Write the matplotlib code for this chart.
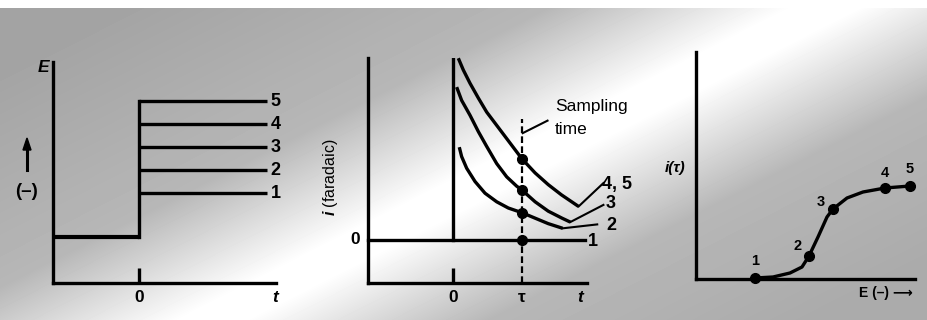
import numpy as np
import matplotlib
matplotlib.use('Agg')
import matplotlib.pyplot as plt

plt.rcParams['font.family'] = ['Liberation Sans', 'DejaVu Sans']
plt.rcParams['font.weight'] = 'bold'
plt.rcParams['mathtext.fontset'] = 'custom'
plt.rcParams['mathtext.it'] = 'Liberation Sans:italic:bold'
plt.rcParams['mathtext.rm'] = 'Liberation Sans:bold'

W, H = 928, 320
LW = 2.4

# panel 1: potential steps
t_step = 0.0
t_end = 1.5
E_base = 2.0
E_levels = [3.9, 4.9, 5.9, 6.9, 7.9]
level_labels = ['1', '2', '3', '4', '5']

# panel 2: faradaic current transients (curve 1 is the zero line)
t_45 = [0.077, 0.149, 0.246, 0.367, 0.488, 0.633, 0.778, 0.923, 1.00, 1.19, 1.38, 1.57, 1.82]
i_45 = [2.33, 2.18, 2.01, 1.82, 1.64, 1.47, 1.30, 1.13, 1.04, 0.86, 0.71, 0.58, 0.43]
t_3 = [0.053, 0.125, 0.246, 0.367, 0.488, 0.633, 0.778, 0.923, 1.00, 1.19, 1.38, 1.58, 1.70]
i_3 = [1.96, 1.79, 1.60, 1.39, 1.20, 0.98, 0.81, 0.69, 0.64, 0.49, 0.37, 0.28, 0.23]
t_2 = [0.091, 0.125, 0.198, 0.319, 0.464, 0.633, 0.802, 1.00, 1.19, 1.38, 1.59]
i_2 = [1.19, 1.07, 0.92, 0.75, 0.60, 0.49, 0.41, 0.35, 0.28, 0.21, 0.15]
tau = 1.0
i_tau = [0.0, 0.35, 0.64, 1.04]

# panel 3: sampled current vs potential
E_curve = [5.9, 7.7, 9.4, 10.6, 11.3, 12.2, 13.1, 13.7, 15.1, 16.7, 18.9, 21.4]
i_curve = [0.1, 0.2, 0.6, 1.2, 2.3, 4.2, 6.2, 7.0, 8.1, 8.7, 9.1, 9.3]
E_pts = [5.9, 11.3, 13.7, 18.9, 21.4]
i_pts = [0.1, 2.3, 7.0, 9.1, 9.3]
pt_labels = ['1', '2', '3', '4', '5']


def px_axes(fig, l, r, b, t):
    ax = fig.add_axes([l / W, 1 - b / H, (r - l) / W, (b - t) / H])
    ax.set_facecolor('none')
    for s in ['top', 'right']:
        ax.spines[s].set_visible(False)
    for s in ['left', 'bottom']:
        ax.spines[s].set_linewidth(LW)
    ax.set_xticks([])
    ax.set_yticks([])
    return ax


def ftext(fig, x, y, s, **kw):
    kw.setdefault('ha', 'center')
    kw.setdefault('va', 'center')
    kw.setdefault('fontsize', 12.5)
    fig.text(x / W, 1 - y / H, s, **kw)


fig = plt.figure(figsize=(W / 100, H / 100), dpi=100)

# scanned halftone look: grey page with a light diagonal band
yy, xx = np.mgrid[0:H, 0:W]
d = (xx - 250) * 280 + (yy - 300) * 550
d = d / np.hypot(280, 550)
tone = 1 - 0.28 * np.clip((np.abs(d) - 15) / 110, 0, 1)
tone = tone - 0.08 * np.clip((-d - 120) / 200, 0, 1)
tone = tone - 0.05 * np.clip((d - 120) / 150, 0, 1)
tone[:8, :] = 1.0
bg = fig.add_axes([0, 0, 1, 1], zorder=-5)
bg.imshow(tone, cmap='gray', vmin=0, vmax=1, aspect='auto',
          extent=(0, W, H, 0), interpolation='bilinear')
bg.axis('off')

# ---- panel 1 ----
ax1 = px_axes(fig, 53, 276, 283, 62)
ax1.set_xlim(-1.0, 1.6)
ax1.set_ylim(0, 9.6)
ax1.plot([-1.0, t_step], [E_base, E_base], color='k', lw=LW + 0.6, solid_capstyle='butt')
ax1.plot([t_step, t_step], [E_base, max(E_levels)], color='k', lw=LW)
for E, lab in zip(E_levels, level_labels):
    ax1.plot([t_step, t_end], [E, E], color='k', lw=LW, solid_capstyle='butt')
    ax1.text(t_end + 0.04, E, lab, ha='left', va='center', fontsize=13, clip_on=False)
ax1.set_xticks([t_step])
ax1.set_xticklabels([])
ax1.tick_params(axis='x', direction='in', length=11, width=LW, color='k')

ftext(fig, 139, 298, '0')
ftext(fig, 275, 298, 't', style='italic')
ftext(fig, 43, 68, 'E', style='italic')
ftext(fig, 27, 191, '(–)', fontsize=13.5)
fig.add_artist(plt.Line2D([27 / W, 27 / W], [1 - 170 / H, 1 - 150 / H], color='k', lw=2.2))
fig.add_artist(plt.Polygon([[23 / W, 1 - 150 / H], [31 / W, 1 - 150 / H], [27 / W, 1 - 138 / H]],
                           closed=True, color='k'))

# ---- panel 2 ----
ax2 = px_axes(fig, 368, 587, 283, 58)
ax2.set_xlim(-1.232, 1.942)
ax2.set_ylim(-0.551, 2.333)
ax2.plot([-1.232, 1.91], [0, 0], color='k', lw=LW, clip_on=False)
ax2.plot([0, 0], [0, 2.333], color='k', lw=LW)
ax2.plot([tau, tau], [-0.551, 1.55], color='k', lw=1.6, ls=(0, (3, 1.5)))
for tt, ii in [(t_45, i_45), (t_3, i_3), (t_2, i_2)]:
    ax2.plot(tt, ii, color='k', lw=LW, solid_capstyle='butt', clip_on=False)
ax2.plot([tau] * len(i_tau), i_tau, 'o', color='k', ms=7)
ax2.set_xticks([0])
ax2.set_xticklabels([])
ax2.tick_params(axis='x', direction='in', length=11, width=LW, color='k')

# leader lines to curve labels
ax2.plot([t_45[-1], 2.18], [i_45[-1], 0.73], color='k', lw=1.5, clip_on=False)
ax2.plot([t_3[-1], 2.18], [i_3[-1], 0.45], color='k', lw=1.5, clip_on=False)
ax2.plot([t_2[-1], 2.09], [i_2[-1], 0.20], color='k', lw=1.5, clip_on=False)
ax2.plot([tau + 0.01, 1.37], [1.37, 1.53], color='k', lw=1.5)

ftext(fig, 617, 184, '4, 5', fontsize=13)
ftext(fig, 611, 203, '3', fontsize=13)
ftext(fig, 611, 225, '2', fontsize=13)
ftext(fig, 593, 241, '1', fontsize=13)
ftext(fig, 555, 106, 'Sampling', ha='left', weight='normal', fontsize=12.5)
ftext(fig, 555, 129, 'time', ha='left', weight='normal', fontsize=12.5)
ftext(fig, 355, 239, '0')
ftext(fig, 453, 297, '0')
ftext(fig, 522, 297, 'τ')
ftext(fig, 580, 297, 't', style='italic')
ftext(fig, 331, 177, r'$i$ (faradaic)', rotation=90, weight='normal', fontsize=11.5)

# ---- panel 3 ----
ax3 = px_axes(fig, 696, 915, 279, 52)
ax3.set_xlim(0, 21.9)
ax3.set_ylim(0, 22.7)
ax3.plot(E_curve, i_curve, color='k', lw=LW, clip_on=False)
ax3.plot(E_pts, i_pts, 'o', color='k', ms=7, clip_on=False)
offsets = [(0, 12), (-8, 7), (-9, 5), (0, 11), (0, 12)]
for E, i, lab, off in zip(E_pts, i_pts, pt_labels, offsets):
    ax3.annotate(lab, (E, i), xytext=off, textcoords='offset points',
                 ha='center', va='center', fontsize=10.5)

ftext(fig, 675, 168, 'i(τ)', style='italic', fontsize=11)
ftext(fig, 886, 293, 'E (–) ⟶', fontsize=10)

fig.savefig('out.png', dpi=100)
